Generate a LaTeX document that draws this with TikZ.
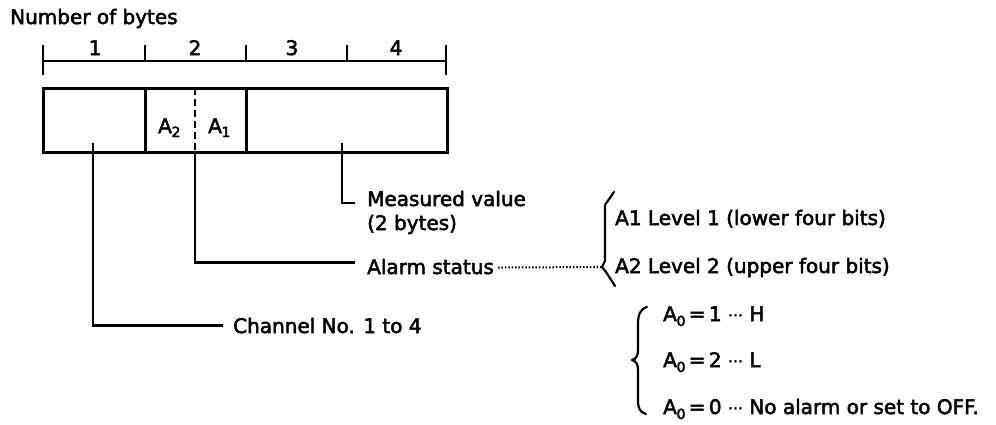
\documentclass[tikz,border=0pt]{standalone}
\usepackage{fontspec}
\setmainfont{DejaVu Sans}[FakeBold=2.5]
\newcommand{\Asub}[2]{A\kern-0.3pt\raisebox{#2}{\fontsize{14}{14}\selectfont #1}}
\begin{document}
\begin{tikzpicture}[x=1pt,y=-1pt,
  lbl/.style={inner sep=0pt, font=\fontsize{20}{24}\selectfont},
  boxline/.style={line width=3pt},
  rulerline/.style={line width=2.2pt},
  conn/.style={line width=2.3pt},
  dashdiv/.style={line width=2.3pt, dash pattern=on 7pt off 4pt},
  dotline/.style={line width=2pt, dash pattern=on 1.5pt off 1.9pt},
  bracepath/.style={line width=2.2pt, line cap=round, line join=round}]
\useasboundingbox (0,0) rectangle (996,424);
% title
\node[lbl, anchor=base west] (title) at (10,24) {Number of bytes};
% ruler
\coordinate (r0) at (43,61);
\coordinate (r4) at (446,61);
\draw[rulerline] (r0) -- (r4);
\draw[rulerline] (43,45) -- (43,75);
\draw[rulerline] (446,45) -- (446,75);
\draw[rulerline] (145,45) -- (145,61);
\draw[rulerline] (246,45) -- (246,61);
\draw[rulerline] (347,45) -- (347,61);
\node[lbl, anchor=base] (n1) at (95,55) {1};
\node[lbl, anchor=base] (n2) at (195,55) {2};
\node[lbl, anchor=base] (n3) at (292,55) {3};
\node[lbl, anchor=base] (n4) at (396,55) {4};
% data box
\draw[boxline] (43,88) rectangle (447,152);
\draw[boxline] (145,88) -- (145,152);
\draw[boxline] (246,88) -- (246,152);
\draw[dashdiv] (195,88) -- (195,152);
\node[lbl, anchor=base west] (a2) at (158,133) {\Asub{2}{-4pt}};
\node[lbl, anchor=base west] (a1) at (208,133) {\Asub{1}{-4pt}};
% texts
\node[lbl, anchor=base west] (meas1) at (367,206) {Measured value};
\node[lbl, anchor=base west] (meas2) at (367,230) {(2 bytes)};
\node[lbl, anchor=base west] (alarm) at (367,274) {Alarm status};
\node[lbl, anchor=base west] (chan) at (233,333) {Channel No. 1 to 4};
\node[lbl, anchor=base west] (lv1) at (615,225) {A1 Level 1 (lower four bits)};
\node[lbl, anchor=base west] (lv2) at (615,273) {A2 Level 2 (upper four bits)};
\node[lbl, anchor=base west] (h) at (663,321) {\Asub{0}{-5pt}\,=\,1 \raisebox{1pt}{\fontsize{15}{15}\selectfont ⋯} H};
\node[lbl, anchor=base west] (l) at (663,367) {\Asub{0}{-5pt}\,=\,2 \raisebox{1pt}{\fontsize{15}{15}\selectfont ⋯} L};
\node[lbl, anchor=base west] (off) at (663,414) {\Asub{0}{-5pt}\,=\,0 \raisebox{1pt}{\fontsize{15}{15}\selectfont ⋯} No alarm or set to OFF.};
% connectors
\coordinate (meastop) at (342,143);
\coordinate (alarmtop) at (195,152);
\coordinate (chantop) at (93,143);
\draw[conn, shorten >=12pt] (meastop) |- ([yshift=3pt]meas1.base west);
\draw[conn, shorten >=12pt] (alarmtop) |- ([yshift=4pt]alarm.west);
\draw[conn, shorten >=10pt] (chantop) |- (chan.west);
% brace 1
\coordinate (b1tip) at (602,267);
\draw[dotline, shorten <=4pt] ([yshift=-1pt]alarm.east) -- (b1tip);
\draw[bracepath] (614,192) -- (605,205) -- (605,261) -- (b1tip) -- (606,272) -- (615,286);
% brace 2
\coordinate (b2tip) at (632,360);
\draw[bracepath] (647,307) .. controls (640,309) and (638,315) .. (638,324) -- (638,350)
  .. controls (638,356) and (636,359) .. (b2tip)
  .. controls (636,361) and (638,364) .. (638,370) -- (638,400)
  .. controls (638,409) and (640,412) .. (646,414);
\end{tikzpicture}
\end{document}
